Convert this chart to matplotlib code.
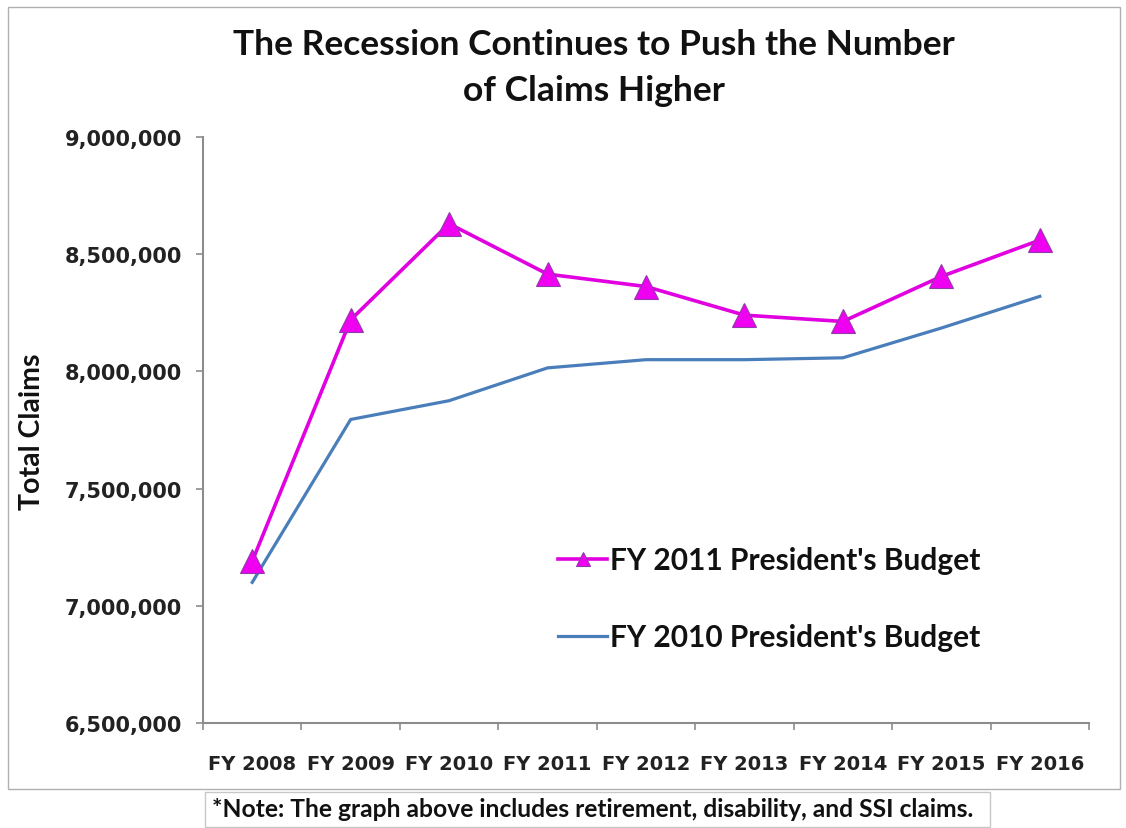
import matplotlib
matplotlib.use("Agg")
import matplotlib.pyplot as plt
from matplotlib.patches import Rectangle
from matplotlib.ticker import FuncFormatter, FixedLocator

# data
years = ['FY 2008', 'FY 2009', 'FY 2010', 'FY 2011', 'FY 2012',
         'FY 2013', 'FY 2014', 'FY 2015', 'FY 2016']
budget_2011 = [7190000, 8220000, 8630000, 8415000, 8362000,
               8240000, 8213000, 8405000, 8560000]
budget_2010 = [7100000, 7795000, 7875000, 8015000, 8050000,
               8050000, 8058000, 8185000, 8320000]
yticks = [6500000, 7000000, 7500000, 8000000, 8500000, 9000000]

title = 'The Recession Continues to Push the Number\nof Claims Higher'
note = '*Note: The graph above includes retirement, disability, and SSI claims.'

W, H = 1126, 829
fig = plt.figure(figsize=(W / 100, H / 100), dpi=100)
fig.patch.set_facecolor('white')

# outer frame and note box
fig.patches.append(Rectangle((8 / W, 1 - 790 / H), 1112 / W, 782 / H,
                             transform=fig.transFigure, fill=False,
                             edgecolor='#b0b0b0', linewidth=1.0))
fig.patches.append(Rectangle((205 / W, 1 - 828 / H), 785 / W, 35 / H,
                             transform=fig.transFigure, fill=False,
                             edgecolor='#c8c8c8', linewidth=1.0))

ax = fig.add_axes([203 / W, 1 - 724 / H, 886 / W, 586 / H])
x = list(range(len(years)))

ax.plot(x, budget_2010, color='#4A7EBB', linewidth=2.3,
        label="FY 2010 President's Budget", zorder=2)
ax.plot(x, budget_2011, color='#E000E0', linewidth=2.6, marker='^',
        markersize=17, markerfacecolor='#F000F0', markeredgecolor='#8E3CA8',
        markeredgewidth=0.8, label="FY 2011 President's Budget", zorder=3)

ax.set_xlim(-0.5, len(years) - 0.5)
ax.set_ylim(yticks[0], yticks[-1])
ax.set_yticks(yticks)
ax.yaxis.set_major_formatter(FuncFormatter(lambda v, p: f'{int(v):,}'))
ax.set_xticks(x)
ax.set_xticklabels(years)
ax.xaxis.set_minor_locator(FixedLocator([i - 0.5 for i in range(len(years) + 1)]))

for s in ['top', 'right']:
    ax.spines[s].set_visible(False)
for s in ['left', 'bottom']:
    ax.spines[s].set_color('#8c8c8c')
    ax.spines[s].set_linewidth(1.5)

ax.tick_params(axis='y', length=5, width=1.2, color='#8c8c8c', pad=10,
               labelsize=15, labelcolor='#222222')
ax.tick_params(axis='x', which='major', length=0, pad=22,
               labelsize=14, labelcolor='#222222')
ax.tick_params(axis='x', which='minor', length=5, width=1.2, color='#8c8c8c')
for lab in ax.get_xticklabels() + ax.get_yticklabels():
    lab.set_fontweight('bold')

# legend, ordered as in the reference
handles, labels = ax.get_legend_handles_labels()
leg = ax.legend(handles[::-1], labels[::-1], loc='upper left',
                bbox_to_anchor=(558 / W, 1 - 547 / H),
                bbox_transform=fig.transFigure, frameon=False,
                prop={'family': 'Lato', 'weight': 'bold', 'size': 21.5},
                borderpad=0, borderaxespad=0,
                handlelength=1.65, handletextpad=0.1,
                labelspacing=1.65, markerscale=0.6)
for t in leg.get_texts():
    t.set_color('#111111')

fig.text(594 / W, 1 - 68 / H, title, ha='center', va='center',
         fontsize=25.5, fontweight='bold', family='Lato', linespacing=1.55,
         color='#111111')
fig.text(32 / W, 1 - 432 / H, 'Total Claims', rotation=90, ha='center',
         va='center', fontsize=20.5, fontweight='bold', family='Lato',
         color='#111111')
fig.text(593 / W, 1 - 810 / H, note, ha='center', va='center',
         fontsize=17.7, fontweight='bold', family='Lato', color='#111111')

fig.savefig('out.png', dpi=100)
